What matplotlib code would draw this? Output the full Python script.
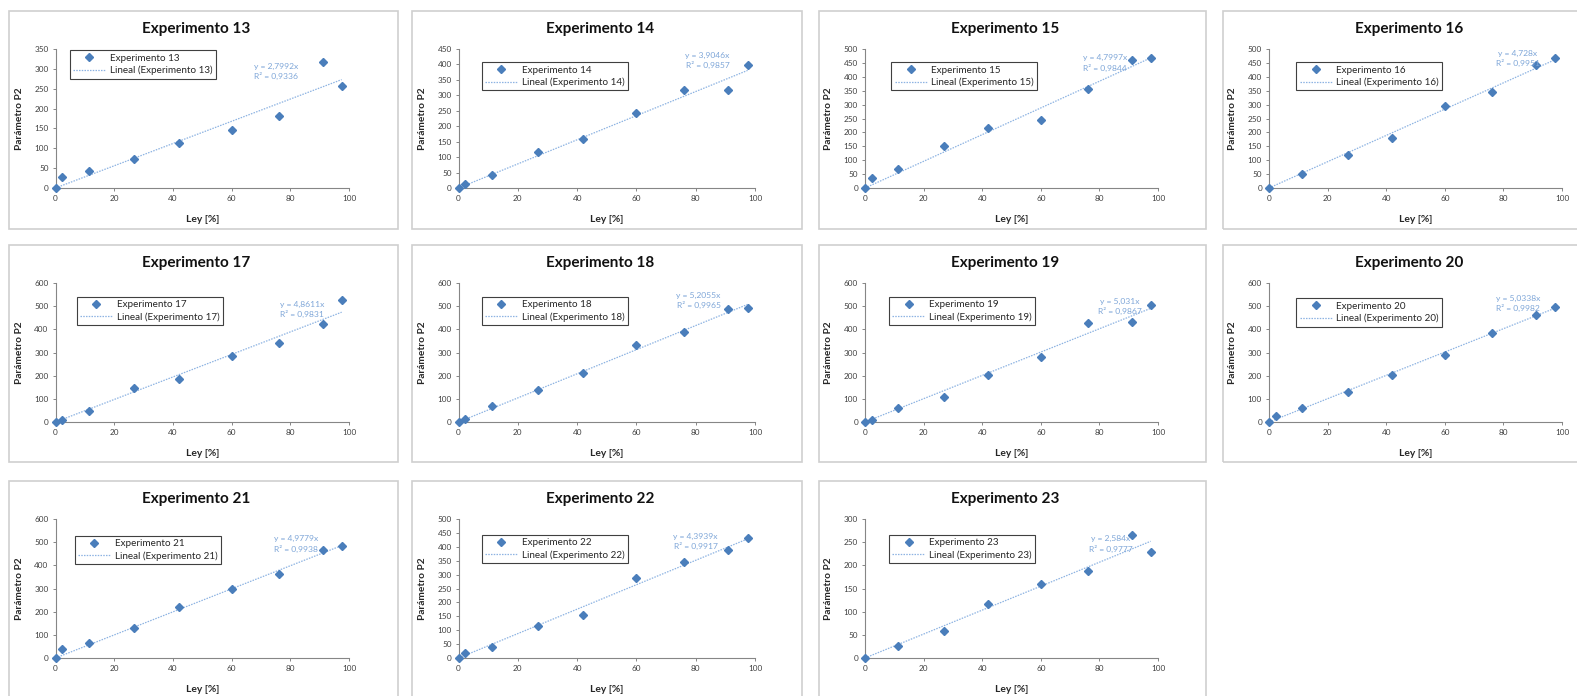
import matplotlib
matplotlib.use('Agg')
import matplotlib.pyplot as plt
from matplotlib.patches import Rectangle

# ---------------- data ----------------
experiments = [13, 14, 15, 16, 17, 18, 19, 20, 21, 22, 23]

ley_full = [0, 2.3, 11.4, 26.9, 42.0, 60.0, 76.1, 91.0, 97.5]
ley_short = [0, 11.4, 26.9, 42.0, 60.0, 76.1, 91.0, 97.5]

exp13_p2 = [0, 27, 43, 72, 113, 146, 181, 317, 257]
exp14_p2 = [0, 12, 42, 116, 160, 243, 316, 316, 399]
exp15_p2 = [0, 35, 70, 150, 217, 246, 356, 460, 467]
exp16_p2 = [0, 50, 118, 181, 295, 345, 441, 467]
exp17_p2 = [0, 10, 47, 148, 185, 285, 342, 421, 527]
exp18_p2 = [0, 15, 68, 137, 213, 332, 390, 486, 492]
exp19_p2 = [0, 8, 62, 110, 201, 281, 427, 432, 506]
exp20_p2 = [0, 25, 60, 131, 205, 289, 385, 462, 496]
exp21_p2 = [0, 40, 66, 128, 218, 298, 361, 466, 483]
exp22_p2 = [0, 17, 41, 116, 154, 286, 345, 388, 430]
exp23_p2 = [0, 25, 59, 117, 159, 188, 266, 229]

ley_sets = [ley_full, ley_full, ley_full, ley_short, ley_full, ley_full,
            ley_full, ley_full, ley_full, ley_full, ley_short]
p2_sets = [exp13_p2, exp14_p2, exp15_p2, exp16_p2, exp17_p2, exp18_p2,
           exp19_p2, exp20_p2, exp21_p2, exp22_p2, exp23_p2]

slopes = [2.7992, 3.9046, 4.7997, 4.728, 4.8611, 5.2055, 5.031, 5.0338,
          4.9779, 4.3939, 2.584]
r2_values = [0.9336, 0.9857, 0.9844, 0.9951, 0.9831, 0.9965, 0.9867,
             0.9982, 0.9938, 0.9917, 0.9777]

y_max = [350, 450, 500, 500, 600, 600, 600, 600, 600, 500, 300]
y_step = [50, 50, 50, 50, 100, 100, 100, 100, 100, 50, 50]
x_ticks = [0, 20, 40, 60, 80, 100]

# ---------------- layout ----------------
W, H = 1577, 696
fig = plt.figure(figsize=(W / 100, H / 100), dpi=100)
plt.rcParams['font.family'] = ['Lato', 'DejaVu Sans']

col_axes = [(55.5, 349), (458.6, 755), (865, 1158), (1269, 1562)]
row_axes = [(49, 188), (283, 422), (519, 658)]
col_panel = [(9, 398), (412, 802), (819, 1206), (1223, 1600)]
row_panel = [(11, 229), (245, 462), (481, 730)]

legend_pos = [(0.048, 0.99), (0.078, 0.906), (0.089, 0.906), (0.093, 0.906),
              (0.072, 0.90), (0.078, 0.90), (0.082, 0.90), (0.093, 0.89),
              (0.065, 0.88), (0.078, 0.885), (0.082, 0.885)]
eq_pos = [(0.75, 0.84), (0.84, 0.92), (0.82, 0.90), (0.85, 0.93),
          (0.84, 0.81), (0.81, 0.875), (0.87, 0.83), (0.85, 0.85),
          (0.82, 0.82), (0.80, 0.84), (0.84, 0.82)]

marker_color = '#4a7ebb'
trend_color = '#8db3e2'
eq_color = '#7ea6d8'
spine_color = '#868686'
text_color = '#262626'

for i, exp in enumerate(experiments):
    r, c = divmod(i, 4)
    pl, pr = col_panel[c]
    pt, pb = row_panel[r]
    fig.add_artist(Rectangle((pl / W, 1 - pb / H), (pr - pl) / W, (pb - pt) / H,
                             transform=fig.transFigure, fill=False,
                             edgecolor='#cfcfcf', lw=1.2))
    x0, x1 = col_axes[c]
    top, bot = row_axes[r]
    ax = fig.add_axes([x0 / W, 1 - bot / H, (x1 - x0) / W, (bot - top) / H])
    ax.set_facecolor('none')

    xs = ley_sets[i]
    ys = p2_sets[i]
    ax.plot(xs, ys, linestyle='none', marker='D', ms=4.2, color=marker_color,
            label=f'Experimento {exp}', zorder=3, clip_on=False)
    xmax = max(xs)
    ax.plot([0, xmax], [0, slopes[i] * xmax], linestyle=(0, (1.2, 1.0)),
            lw=0.9, color=trend_color, label=f'Lineal (Experimento {exp})', zorder=2)

    ax.set_xlim(0, 100)
    ax.set_ylim(0, y_max[i])
    ax.set_xticks(x_ticks)
    ax.set_yticks(list(range(0, y_max[i] + 1, y_step[i])))
    for s in ['top', 'right']:
        ax.spines[s].set_visible(False)
    for s in ['left', 'bottom']:
        ax.spines[s].set_color(spine_color)
        ax.spines[s].set_linewidth(0.8)
    ax.tick_params(axis='both', length=2.5, width=0.7, color=spine_color,
                   labelsize=5.9, labelcolor='#404040', pad=2.5)

    ax.set_xlabel('Ley [%]', fontsize=7.4, fontweight='bold', color=text_color)
    ax.set_ylabel('Parámetro P2', fontsize=7.3, fontweight='bold', color=text_color)
    ax.xaxis.set_label_coords(0.5, -27 / (bot - top))
    ax.yaxis.set_label_coords(-32 / (x1 - x0), 0.5)

    ax.text(0.478, 1 + 20 / (bot - top), f'Experimento {exp}', transform=ax.transAxes,
            ha='center', va='center', fontsize=11, fontweight='bold', color='#111111')

    slope_txt = f'{slopes[i]}'.replace('.', ',')
    r2_txt = f'{r2_values[i]:.4f}'.replace('.', ',')
    ax.text(eq_pos[i][0], eq_pos[i][1], f'y = {slope_txt}x\nR² = {r2_txt}',
            transform=ax.transAxes, ha='center', va='center', fontsize=6.1,
            color=eq_color, linespacing=1.3)

    leg = ax.legend(loc='upper left', bbox_to_anchor=legend_pos[i], borderaxespad=0,
                    fontsize=7.1, frameon=True, fancybox=False, framealpha=1,
                    edgecolor='#404040', handlelength=3.3, handletextpad=0.4,
                    borderpad=0.35, labelspacing=0.3)
    leg.get_frame().set_linewidth(0.8)
    for t in leg.get_texts():
        t.set_color(text_color)

fig.savefig('out.png', dpi=100)
